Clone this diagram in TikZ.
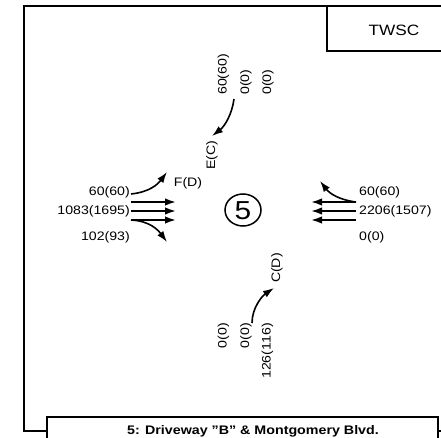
\documentclass[tikz,border=0pt]{standalone}
\usepackage{fontspec}
\setmainfont[FakeStretch=1.15]{Liberation Sans}
\usetikzlibrary{arrows.meta,shapes.geometric}
\begin{document}
\begin{tikzpicture}[x=1pt,y=-1pt,
  frame/.style={line width=1.8pt},
  lbl/.style={inner sep=0pt,font=\fontsize{12.3}{14}\selectfont},
  mv/.style={line width=1.8pt,-{Latex[length=11pt,width=7.5pt]}},
  turn/.style={line width=1.6pt,-{Latex[length=11pt,width=7.5pt]}}]
\useasboundingbox (0,0) rectangle (441,438);
\clip (0,0) rectangle (441,438);
\fill[white] (0,0) rectangle (441,438);
% outer frame
\draw[frame] (445,6) -- (24,6) -- (24,431) -- (445,431);
% TWSC box
\draw[frame,fill=white] (327,6) rectangle (450,51);
\node[font=\fontsize{15}{17}\selectfont] (twsc) at (394,30) {TWSC};
% bottom title box
\draw[frame,fill=white] (47,417) rectangle (438,450);
\node[anchor=base,font=\bfseries\fontsize{12.4}{14}\selectfont] (title) at (253,434.5) {5: Driveway "B" \& Montgomery Blvd.};
% intersection id
\node[draw,ellipse,line width=1.5pt,minimum width=36pt,minimum height=32pt,inner sep=0pt] (int) at (243,210) {};
\node[font=\fontsize{26}{28}\selectfont] (five) at (243,211) {5};
% left approach
\coordinate (la1) at (131,202); \coordinate (lb1) at (176,202);
\coordinate (la2) at (131,211); \coordinate (lb2) at (176,211);
\coordinate (la3) at (131,220); \coordinate (lb3) at (176,220);
\draw[mv] (la1) -- (lb1);
\draw[mv] (la2) -- (lb2);
\draw[mv] (la3) -- (lb3);
\coordinate (lls) at (131,194); \coordinate (lle) at (167,172);
\draw[turn] (lls) .. controls (150,192) and (158,184) .. (lle);
\coordinate (lrs) at (131,220); \coordinate (lre) at (167,242);
\draw[turn] (lrs) .. controls (150,221) and (158,230) .. (lre);
\node[lbl,anchor=east] (wl) at (130,192) {60(60)};
\node[lbl,anchor=east] (wt) at (130,211) {1083(1695)};
\node[lbl,anchor=east] (wr) at (130,237) {102(93)};
\node[lbl] (fd) at (188,183) {F(D)};
% right approach
\coordinate (ra1) at (356,202); \coordinate (rb1) at (311,202);
\coordinate (ra2) at (356,211); \coordinate (rb2) at (311,211);
\coordinate (ra3) at (356,220); \coordinate (rb3) at (311,220);
\draw[mv] (ra1) -- (rb1);
\draw[mv] (ra2) -- (rb2);
\draw[mv] (ra3) -- (rb3);
\coordinate (rls) at (356,202); \coordinate (rle) at (320,181);
\draw[turn] (rls) .. controls (340,200) and (330,194) .. (rle);
\node[lbl,anchor=west] (el) at (359,192) {60(60)};
\node[lbl,anchor=west] (et) at (359,211) {2206(1507)};
\node[lbl,anchor=west] (er) at (359,237) {0(0)};
% top approach
\node[lbl,rotate=90,anchor=west] (sl) at (223.5,95) {60(60)};
\node[lbl,rotate=90,anchor=west] (st) at (246,95) {0(0)};
\node[lbl,rotate=90,anchor=west] (sr) at (268,95) {0(0)};
\coordinate (tls) at (234,99); \coordinate (tle) at (212,136);
\draw[turn] (tls) .. controls (232,114) and (225,126) .. (tle);
\node[lbl,rotate=90] (ec) at (212,155) {E(C)};
% bottom approach
\node[lbl,rotate=90,anchor=east] (nl) at (223.5,323) {0(0)};
\node[lbl,rotate=90,anchor=east] (nt) at (246,323) {0(0)};
\node[lbl,rotate=90,anchor=east] (nr) at (267.5,323) {126(116)};
\coordinate (bls) at (252,323); \coordinate (ble) at (274,288);
\draw[turn] (bls) .. controls (252,308) and (262,296) .. (ble);
\node[lbl,rotate=90] (cd) at (277,268) {C(D)};
\end{tikzpicture}
\end{document}
